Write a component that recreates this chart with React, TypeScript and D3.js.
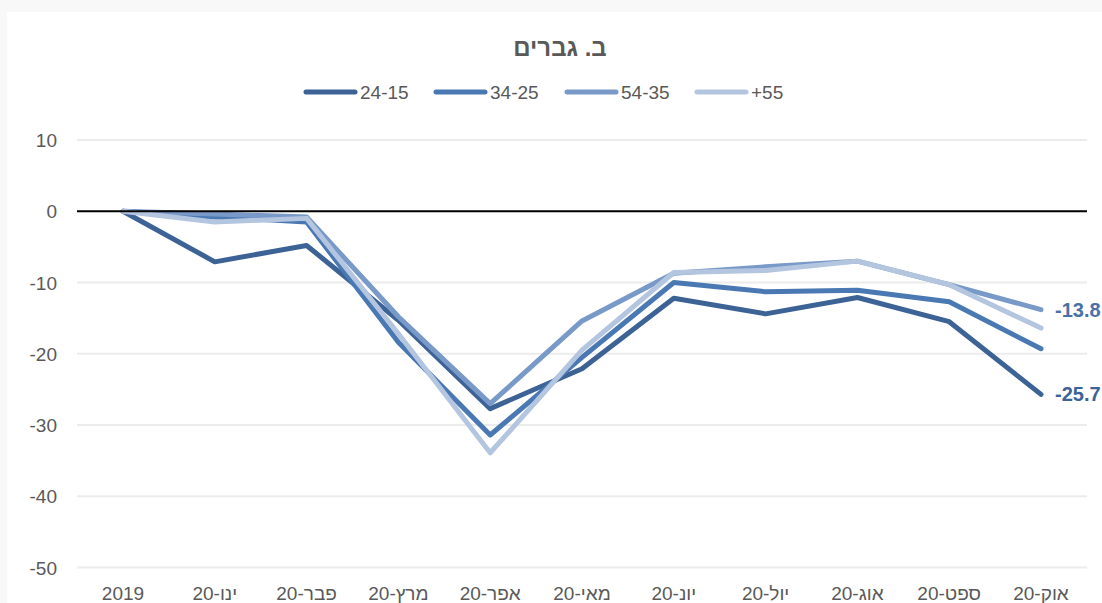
import React from 'react';
import * as d3 from 'd3';

// categories (Hebrew months, written in visual order for an LTR text run)
const categories = ['2019', '20-ינו', '20-פבר', '20-מרץ', '20-אפר', '20-מאי', '20-יונ', '20-יול', '20-אוג', '20-ספט', '20-אוק'];

const age1524 = [0, -7.1, -4.8, -15.3, -27.7, -22.1, -12.2, -14.4, -12.1, -15.5, -25.7];
const age2534 = [0, -0.8, -1.5, -18.4, -31.4, -20.5, -10.0, -11.3, -11.1, -12.7, -19.3];
const age3554 = [0, -0.4, -0.8, -14.8, -27.0, -15.4, -8.7, -7.8, -7.0, -10.3, -13.8];
const age55 = [0, -1.5, -1.0, -17.2, -33.9, -19.5, -8.6, -8.3, -7.0, -10.3, -16.4];

const seriesNames = ['24-15', '34-25', '54-35', '+55'];
const seriesColors = ['#3c6296', '#4a78b2', '#7999c8', '#b4c5e0'];
const yTicks = [10, 0, -10, -20, -30, -40, -50];

const App = () => {
  const width = 1102;
  const height = 603;
  const font = '"Liberation Sans", "DejaVu Sans", sans-serif';

  const x = d3.scalePoint<string>().domain(categories).range([123, 1041]);
  const y = d3.scaleLinear().domain([-50, 10]).range([567.5, 140]);

  const series = [age1524, age2534, age3554, age55];
  const line = d3
    .line<number>()
    .x((_, i) => x(categories[i]) as number)
    .y((d) => y(d));

  const legendX = [306, 436, 567, 697];

  return (
    <svg
      width={width}
      height={height}
      style={{ position: 'absolute', left: 0, top: 0, display: 'block' }}
      fontFamily={font}
    >
      <rect x={0} y={0} width={width} height={height} fill="#f8f8f8" />
      <rect x={7} y={12} width={width - 7} height={height - 12} fill="#ffffff" />

      {/* title */}
      <text x={560} y={56} textAnchor="middle" fontSize={24} fontWeight="bold" fill="#595959">
        ב. גברים
      </text>

      {/* legend */}
      {seriesNames.map((name, i) => (
        <g key={name}>
          <line
            x1={legendX[i]}
            x2={legendX[i] + 49}
            y1={92}
            y2={92}
            stroke={seriesColors[i]}
            strokeWidth={5}
            strokeLinecap="round"
          />
          <text x={legendX[i] + 54} y={99} fontSize={19} fill="#595959">
            {name}
          </text>
        </g>
      ))}

      {/* grid */}
      {yTicks.map((t) => (
        <g key={t}>
          {t !== 0 && (
            <line x1={77} x2={1087} y1={y(t)} y2={y(t)} stroke="#ececec" strokeWidth={2} />
          )}
          <text x={57} y={y(t) + 7} textAnchor="end" fontSize={19} fill="#595959">
            {t}
          </text>
        </g>
      ))}

      {/* series lines */}
      {series.map((s, i) => (
        <path
          key={seriesNames[i]}
          d={line(s) as string}
          fill="none"
          stroke={seriesColors[i]}
          strokeWidth={5}
          strokeLinejoin="round"
          strokeLinecap="round"
        />
      ))}

      {/* zero line */}
      <line x1={77} x2={1087} y1={y(0)} y2={y(0)} stroke="#000000" strokeWidth={2} />

      {/* x labels */}
      {categories.map((c) => (
        <text key={c} x={x(c)} y={600} textAnchor="middle" fontSize={19} fill="#595959">
          {c}
        </text>
      ))}

      {/* end labels */}
      <text x={1055} y={y(age3554[10]) + 7} fontSize={20} fontWeight="bold" fill="#4a70a6">
        {age3554[10].toFixed(1)}
      </text>
      <text x={1055} y={y(age1524[10]) + 7} fontSize={20} fontWeight="bold" fill="#3c6296">
        {age1524[10].toFixed(1)}
      </text>
    </svg>
  );
};

export default App;
